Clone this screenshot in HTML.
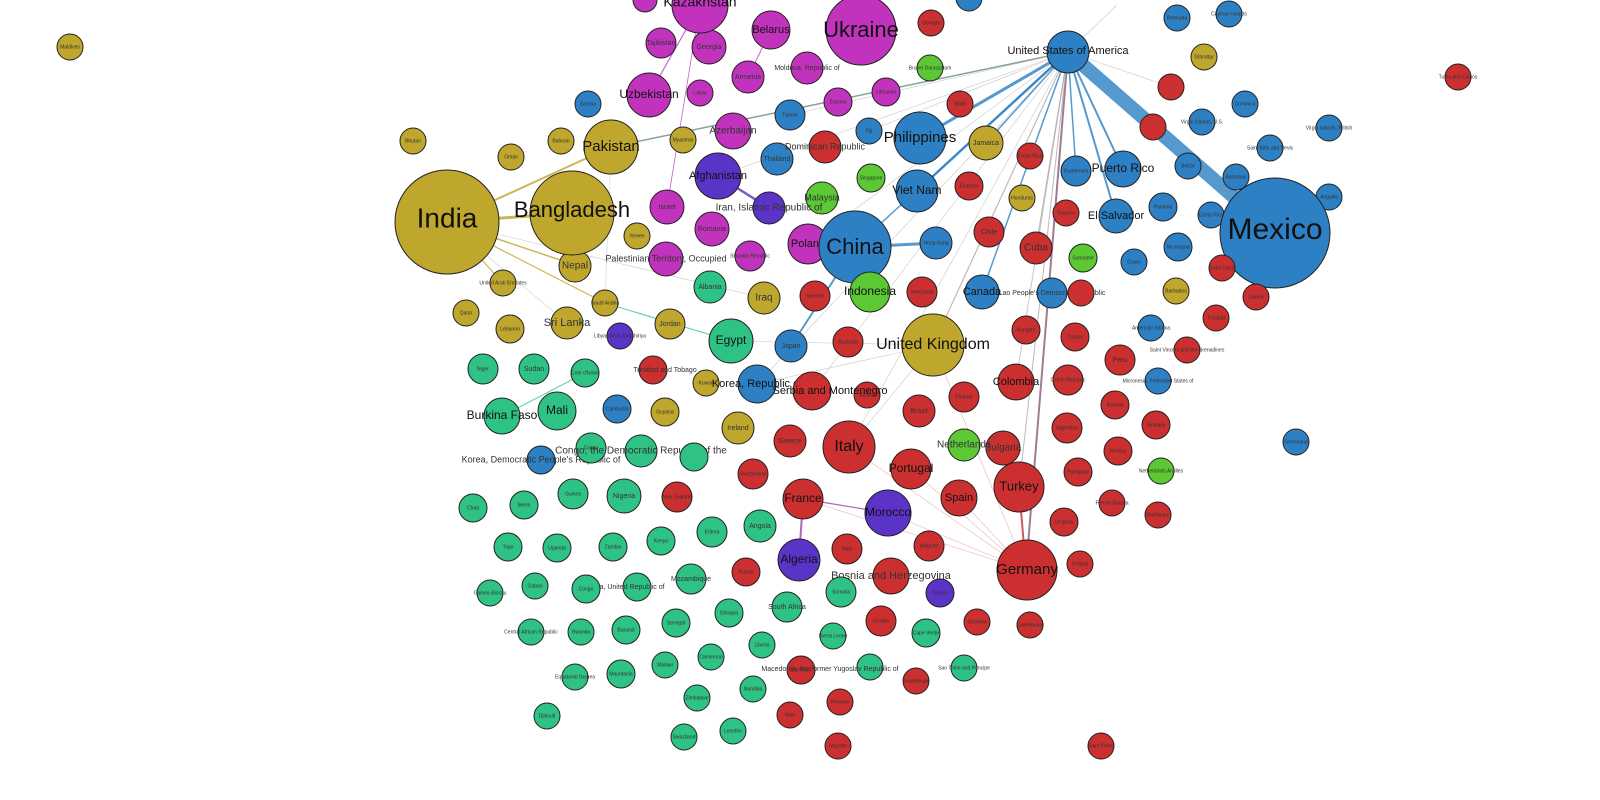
<!DOCTYPE html>
<html><head><meta charset="utf-8"><style>
html,body{margin:0;padding:0;background:#fff;width:1600px;height:800px;overflow:hidden}
svg{font-family:"Liberation Sans","DejaVu Sans",sans-serif}
circle{stroke:#222;stroke-width:1}
.o{fill:#bfa62c}.m{fill:#c233bd}.b{fill:#2d80c4}.r{fill:#cc2f2f}.g{fill:#2fc285}.l{fill:#5bc834}.p{fill:#5b33c6}
text{text-anchor:middle;dominant-baseline:middle;fill:#111}
.s{font-size:7px;fill:#333}.t{font-size:5px;fill:#333}
.e line{stroke:#bbb;stroke-width:0.6;opacity:.8}
</style></head><body>
<svg width="1600" height="800" viewBox="0 0 1600 800">
<g class="e">
<line x1="611" y1="147" x2="1068" y2="52" style="stroke:#6a8a7a;stroke-width:1.5"/>
<line x1="718" y1="176" x2="1068" y2="52"/>
<line x1="920" y1="138" x2="1068" y2="52" style="stroke:#2d80c4;stroke-width:3"/>
<line x1="917" y1="191" x2="1068" y2="52" style="stroke:#2d80c4;stroke-width:2.5"/>
<line x1="855" y1="247" x2="1068" y2="52" style="stroke:#2d80c4;stroke-width:1.5"/>
<line x1="933" y1="345" x2="1068" y2="52" style="stroke:#aaa;stroke-width:1.2"/>
<line x1="1026" y1="570" x2="1068" y2="52" style="stroke:#8a5a7a;stroke-width:2"/>
<line x1="1019" y1="487" x2="1068" y2="52" style="stroke:#aaa;stroke-width:1"/>
<line x1="1016" y1="382" x2="1068" y2="52" style="stroke:#bbb;stroke-width:1"/>
<line x1="982" y1="292" x2="1068" y2="52" style="stroke:#2d80c4;stroke-width:1.5"/>
<line x1="1036" y1="248" x2="1068" y2="52" style="stroke:#aaa;stroke-width:1.2"/>
<line x1="1123" y1="169" x2="1068" y2="52" style="stroke:#2d80c4;stroke-width:2"/>
<line x1="1116" y1="216" x2="1068" y2="52" style="stroke:#2d80c4;stroke-width:2"/>
<line x1="1076" y1="171" x2="1068" y2="52" style="stroke:#2d80c4;stroke-width:1.5"/>
<line x1="986" y1="143" x2="1068" y2="52" style="stroke:#2d80c4;stroke-width:1.5"/>
<line x1="812" y1="391" x2="1068" y2="52"/>
<line x1="757" y1="384" x2="1068" y2="52"/>
<line x1="849" y1="447" x2="1068" y2="52"/>
<line x1="808" y1="244" x2="1068" y2="52"/>
<line x1="869" y1="131" x2="1068" y2="52"/>
<line x1="790" y1="115" x2="1068" y2="52"/>
<line x1="1275" y1="233" x2="1068" y2="52" style="stroke:#2d80c4;stroke-width:14"/>
<line x1="572" y1="213" x2="447" y2="222" style="stroke:#bfa62c;stroke-width:3"/>
<line x1="611" y1="147" x2="447" y2="222" style="stroke:#bfa62c;stroke-width:2"/>
<line x1="575" y1="265" x2="447" y2="222" style="stroke:#bfa62c;stroke-width:1.5"/>
<line x1="447" y1="222" x2="605" y2="303" style="stroke:#bfa62c;stroke-width:1.2"/>
<line x1="447" y1="222" x2="503" y2="283" style="stroke:#bfa62c;stroke-width:1.2"/>
<line x1="447" y1="222" x2="567" y2="323" style="stroke:#ddd;stroke-width:1"/>
<line x1="605" y1="303" x2="611" y2="147" style="stroke:#ddd;stroke-width:1"/>
<line x1="855" y1="247" x2="936" y2="243" style="stroke:#2d80c4;stroke-width:3"/>
<line x1="855" y1="247" x2="791" y2="346" style="stroke:#2d80c4;stroke-width:2"/>
<line x1="718" y1="176" x2="769" y2="208" style="stroke:#5b33c6;stroke-width:2.5"/>
<line x1="799" y1="560" x2="803" y2="499" style="stroke:#9a40b0;stroke-width:2"/>
<line x1="888" y1="513" x2="803" y2="499" style="stroke:#9a40b0;stroke-width:1.2"/>
<line x1="1019" y1="487" x2="1026" y2="570" style="stroke:#cc2f2f;stroke-width:2"/>
<line x1="700" y1="5" x2="649" y2="95" style="stroke:#c233bd;stroke-width:1.2"/>
<line x1="771" y1="30" x2="748" y2="77" style="stroke:#c233bd;stroke-width:1"/>
<line x1="700" y1="5" x2="667" y2="207" style="stroke:#c233bd;stroke-width:0.8"/>
<line x1="731" y1="341" x2="605" y2="303" style="stroke:#2fc285;stroke-width:1"/>
<line x1="502" y1="416" x2="585" y2="373" style="stroke:#2fc285;stroke-width:1"/>
<line x1="1026" y1="570" x2="911" y2="469" style="stroke:#e8a0a0"/>
<line x1="1026" y1="570" x2="849" y2="447" style="stroke:#e8a0a0"/>
<line x1="1026" y1="570" x2="803" y2="499" style="stroke:#e8a0a0"/>
<line x1="1026" y1="570" x2="888" y2="513" style="stroke:#e8a0a0"/>
<line x1="1026" y1="570" x2="959" y2="498" style="stroke:#e8a0a0"/>
<line x1="1026" y1="570" x2="933" y2="345" style="stroke:#e8a0a0"/>
<line x1="933" y1="345" x2="731" y2="341"/>
<line x1="933" y1="345" x2="849" y2="447"/>
<line x1="933" y1="345" x2="757" y2="384"/>
<line x1="447" y1="222" x2="764" y2="298"/>
<line x1="1068" y1="52" x2="1117" y2="5"/>
<line x1="1068" y1="52" x2="1171" y2="87"/>
</g>
<!-- nodes -->
<circle class="o" cx="70" cy="47" r="13"/><text class="t" x="70" y="47">Maldives</text>
<circle class="o" cx="413" cy="141" r="13"/><text class="t" x="413" y="141">Bhutan</text>
<circle class="o" cx="511" cy="157" r="13"/><text class="t" x="511" y="157">Oman</text>
<circle class="o" cx="561" cy="141" r="13"/><text class="t" x="561" y="141">Bahrain</text>
<circle class="o" cx="683" cy="140" r="13"/><text class="t" x="683" y="140">Myanmar</text>
<circle class="o" cx="637" cy="236" r="13"/><text class="t" x="637" y="236">Yemen</text>
<circle class="o" cx="503" cy="283" r="13"/><text class="t" x="503" y="283">United Arab Emirates</text>
<circle class="o" cx="605" cy="303" r="13"/><text class="t" x="605" y="303">Saudi Arabia</text>
<circle class="o" cx="466" cy="313" r="13"/><text class="t" x="466" y="313">Qatar</text>
<circle class="o" cx="510" cy="329" r="14"/><text class="t" x="510" y="329">Lebanon</text>
<circle class="o" cx="670" cy="324" r="15"/><text class="s" x="670" y="324">Jordan</text>
<circle class="o" cx="706" cy="383" r="13"/><text class="t" x="706" y="383">Kuwait</text>
<circle class="o" cx="665" cy="412" r="14"/><text class="t" x="665" y="412">Guyana</text>
<circle class="o" cx="738" cy="428" r="16"/><text class="s" x="738" y="428">Ireland</text>
<circle class="o" cx="986" cy="143" r="17"/><text class="s" x="986" y="143">Jamaica</text>
<circle class="o" cx="1022" cy="198" r="13"/><text class="t" x="1022" y="198">Honduras</text>
<circle class="o" cx="1176" cy="291" r="13"/><text class="t" x="1176" y="291">Barbados</text>
<circle class="o" cx="1204" cy="57" r="13"/><text class="t" x="1204" y="57">Gibraltar</text>
<circle class="o" cx="764" cy="298" r="16"/><text class="s" x="764" y="298" style="font-size:10px">Iraq</text>
<circle class="o" cx="567" cy="323" r="16"/><text class="s" x="567" y="323" style="font-size:11px">Sri Lanka</text>
<circle class="o" cx="575" cy="266" r="16"/><text class="s" x="575" y="266" style="font-size:10px">Nepal</text>

<circle class="m" cx="661" cy="43" r="15"/><text class="s" x="661" y="43">Tajikistan</text>
<circle class="m" cx="709" cy="47" r="17"/><text class="s" x="709" y="47">Georgia</text>
<circle class="m" cx="771" cy="30" r="19"/><text x="771" y="30" style="font-size:11px">Belarus</text>
<circle class="m" cx="748" cy="77" r="16"/><text class="s" x="748" y="77">Armenia</text>
<circle class="m" cx="807" cy="68" r="16"/><text class="s" x="807" y="68">Moldova, Republic of</text>
<circle class="m" cx="700" cy="93" r="13"/><text class="t" x="700" y="93">Latvia</text>
<circle class="m" cx="733" cy="131" r="18"/><text class="s" x="733" y="131" style="font-size:10px">Azerbaijan</text>
<circle class="m" cx="886" cy="92" r="14"/><text class="t" x="886" y="92">Lithuania</text>
<circle class="m" cx="838" cy="102" r="14"/><text class="t" x="838" y="102">Estonia</text>
<circle class="m" cx="667" cy="207" r="17"/><text class="s" x="667" y="207">Israel</text>
<circle class="m" cx="712" cy="229" r="17"/><text class="s" x="712" y="229">Romania</text>
<circle class="m" cx="666" cy="259" r="17"/><text class="s" x="666" y="259" style="font-size:9px">Palestinian Territory, Occupied</text>
<circle class="m" cx="750" cy="256" r="15"/><text class="t" x="750" y="256">Slovakia Republic</text>
<circle class="m" cx="649" cy="95" r="22"/><text x="649" y="95" style="font-size:12px">Uzbekistan</text>
<circle class="m" cx="808" cy="244" r="20"/><text x="808" y="244" style="font-size:11px">Poland</text>
<circle class="m" cx="700" cy="5" r="28"/><text x="700" y="3" style="font-size:14px">Kazakhstan</text>
<circle class="m" cx="645" cy="0" r="12"/>
<circle class="m" cx="861" cy="30" r="35"/><text x="861" y="31" style="font-size:22px">Ukraine</text>

<circle class="b" cx="588" cy="104" r="13"/><text class="t" x="588" y="104">Samoa</text>
<circle class="b" cx="790" cy="115" r="15"/><text class="t" x="790" y="115">Taiwan</text>
<circle class="b" cx="869" cy="131" r="13"/><text class="t" x="869" y="131">Fiji</text>
<circle class="b" cx="777" cy="159" r="16"/><text class="s" x="777" y="159">Thailand</text>
<circle class="b" cx="936" cy="243" r="16"/><text class="t" x="936" y="243">Hong Kong</text>
<circle class="b" cx="791" cy="346" r="16"/><text class="s" x="791" y="346">Japan</text>
<circle class="b" cx="617" cy="409" r="14"/><text class="t" x="617" y="409">Cambodia</text>
<circle class="b" cx="541" cy="460" r="14"/><text class="s" x="541" y="460" style="font-size:9px">Korea, Democratic People's Republic of</text>
<circle class="b" cx="1076" cy="171" r="15"/><text class="t" x="1076" y="171">Guatemala</text>
<circle class="b" cx="1178" cy="247" r="14"/><text class="t" x="1178" y="247">Nicaragua</text>
<circle class="b" cx="1134" cy="262" r="13"/><text class="t" x="1134" y="262">Guam</text>
<circle class="b" cx="1052" cy="293" r="15"/><text class="s" x="1052" y="293">Lao People's Democratic Republic</text>
<circle class="b" cx="1151" cy="328" r="13"/><text class="t" x="1151" y="328">American Samoa</text>
<circle class="b" cx="1158" cy="381" r="13"/><text class="t" x="1158" y="381">Micronesia, Federated States of</text>
<circle class="b" cx="1245" cy="104" r="13"/><text class="t" x="1245" y="104">Dominica</text>
<circle class="b" cx="1177" cy="18" r="13"/><text class="t" x="1177" y="18">Bermuda</text>
<circle class="b" cx="1229" cy="14" r="13"/><text class="t" x="1229" y="14">Cayman Islands</text>
<circle class="b" cx="1202" cy="122" r="13"/><text class="t" x="1202" y="122">Virgin Islands, U.S.</text>
<circle class="b" cx="1188" cy="166" r="13"/><text class="t" x="1188" y="166">Belize</text>
<circle class="b" cx="1236" cy="177" r="13"/><text class="t" x="1236" y="177">Bahamas</text>
<circle class="b" cx="1211" cy="215" r="13"/><text class="t" x="1211" y="215">Costa Rica</text>
<circle class="b" cx="1163" cy="207" r="14"/><text class="t" x="1163" y="207">Panama</text>
<circle class="b" cx="1270" cy="148" r="13"/><text class="t" x="1270" y="148">Saint Kitts and Nevis</text>
<circle class="b" cx="1329" cy="128" r="13"/><text class="t" x="1329" y="128">Virgin Islands, British</text>
<circle class="b" cx="1329" cy="197" r="13"/><text class="t" x="1329" y="197">Anguilla</text>
<circle class="b" cx="1296" cy="442" r="13"/><text class="t" x="1296" y="442">Greenland</text>
<circle class="b" cx="969" cy="-2" r="13"/>
<circle class="b" cx="1123" cy="169" r="18"/><text x="1123" y="169" style="font-size:12px">Puerto Rico</text>
<circle class="b" cx="1116" cy="216" r="17"/><text x="1116" y="216" style="font-size:11px">El Salvador</text>
<circle class="b" cx="982" cy="292" r="17"/><text x="982" y="292" style="font-size:11px">Canada</text>
<circle class="b" cx="757" cy="384" r="19"/><text x="757" y="384" style="font-size:11px">Korea, Republic of</text>
<circle class="b" cx="917" cy="191" r="21"/><text x="917" y="191" style="font-size:12px">Viet Nam</text>
<circle class="b" cx="920" cy="138" r="26"/><text x="920" y="138" style="font-size:15px">Philippines</text>
<circle class="b" cx="1068" cy="52" r="21"/><text x="1068" y="51" style="font-size:11px">United States of America</text>
<circle class="b" cx="855" cy="247" r="36"/><text x="855" y="248" style="font-size:22px">China</text>
<circle class="b" cx="1275" cy="233" r="55"/><text x="1275" y="231" style="font-size:30px">Mexico</text>

<circle class="r" cx="931" cy="23" r="13"/><text class="t" x="931" y="23">Georgia</text>
<circle class="r" cx="960" cy="104" r="13"/><text class="t" x="960" y="104">Malta</text>
<circle class="r" cx="825" cy="147" r="16"/><text class="s" x="825" y="147" style="font-size:9px">Dominican Republic</text>
<circle class="r" cx="969" cy="186" r="14"/><text class="t" x="969" y="186">Ecuador</text>
<circle class="r" cx="1030" cy="156" r="13"/><text class="t" x="1030" y="156">Costa Rica</text>
<circle class="r" cx="1120" cy="360" r="15"/><text class="s" x="1120" y="360">Peru</text>
<circle class="r" cx="989" cy="232" r="15"/><text class="s" x="989" y="232">Chile</text>
<circle class="r" cx="1066" cy="213" r="13"/><text class="t" x="1066" y="213">Guyana</text>
<circle class="r" cx="922" cy="292" r="15"/><text class="t" x="922" y="292">Venezuela</text>
<circle class="r" cx="815" cy="296" r="15"/><text class="t" x="815" y="296">Sweden</text>
<circle class="r" cx="848" cy="342" r="15"/><text class="t" x="848" y="342">Australia</text>
<circle class="r" cx="1026" cy="330" r="14"/><text class="t" x="1026" y="330">Hungary</text>
<circle class="r" cx="1075" cy="337" r="14"/><text class="t" x="1075" y="337">Cyprus</text>
<circle class="r" cx="1068" cy="380" r="15"/><text class="t" x="1068" y="380">Czech Republic</text>
<circle class="r" cx="964" cy="397" r="15"/><text class="t" x="964" y="397">Finland</text>
<circle class="r" cx="867" cy="395" r="13"/><text class="t" x="867" y="395">Austria</text>
<circle class="r" cx="919" cy="411" r="16"/><text class="s" x="919" y="411">Brazil</text>
<circle class="r" cx="1003" cy="448" r="17"/><text class="s" x="1003" y="448" style="font-size:10px">Bulgaria</text>
<circle class="r" cx="1067" cy="428" r="15"/><text class="t" x="1067" y="428">Argentina</text>
<circle class="r" cx="790" cy="441" r="16"/><text class="s" x="790" y="441">Greece</text>
<circle class="r" cx="753" cy="474" r="15"/><text class="t" x="753" y="474">Switzerland</text>
<circle class="r" cx="1078" cy="472" r="14"/><text class="t" x="1078" y="472">Paraguay</text>
<circle class="r" cx="677" cy="497" r="15"/><text class="t" x="677" y="497">New Zealand</text>
<circle class="r" cx="847" cy="549" r="15"/><text class="t" x="847" y="549">Haiti</text>
<circle class="r" cx="929" cy="546" r="15"/><text class="t" x="929" y="546">Belgium</text>
<circle class="r" cx="746" cy="572" r="14"/><text class="t" x="746" y="572">Russia</text>
<circle class="r" cx="881" cy="621" r="15"/><text class="t" x="881" y="621">Croatia</text>
<circle class="r" cx="977" cy="622" r="13"/><text class="t" x="977" y="622">Slovenia</text>
<circle class="r" cx="1030" cy="625" r="13"/><text class="t" x="1030" y="625">Luxembourg</text>
<circle class="r" cx="801" cy="670" r="14"/><text class="t" x="801" y="670">Denmark</text>
<circle class="r" cx="891" cy="576" r="18"/><text class="s" x="891" y="576" style="font-size:11px">Bosnia and Herzegovina</text>
<circle class="r" cx="1080" cy="564" r="13"/><text class="t" x="1080" y="564">Iceland</text>
<circle class="r" cx="1064" cy="522" r="14"/><text class="t" x="1064" y="522">Uruguay</text>
<circle class="r" cx="1112" cy="503" r="13"/><text class="t" x="1112" y="503">French Guiana</text>
<circle class="r" cx="1158" cy="515" r="13"/><text class="t" x="1158" y="515">Martinique</text>
<circle class="r" cx="1156" cy="425" r="14"/><text class="t" x="1156" y="425">Slovakia</text>
<circle class="r" cx="1118" cy="451" r="14"/><text class="t" x="1118" y="451">Norway</text>
<circle class="r" cx="1115" cy="405" r="14"/><text class="t" x="1115" y="405">Estonia</text>
<circle class="r" cx="1187" cy="350" r="13"/><text class="t" x="1187" y="350">Saint Vincent and the Grenadines</text>
<circle class="r" cx="1216" cy="318" r="13"/><text class="t" x="1216" y="318">Trinidad</text>
<circle class="r" cx="1458" cy="77" r="13"/><text class="t" x="1458" y="77">Turks and Caicos</text>
<circle class="r" cx="790" cy="715" r="13"/><text class="t" x="790" y="715">Niue</text>
<circle class="r" cx="840" cy="702" r="13"/><text class="t" x="840" y="702">Reunion</text>
<circle class="r" cx="838" cy="746" r="13"/><text class="t" x="838" y="746">Mayotte</text>
<circle class="r" cx="916" cy="681" r="13"/><text class="t" x="916" y="681">Guadeloupe</text>
<circle class="r" cx="1101" cy="746" r="13"/><text class="t" x="1101" y="746">Saint Pierre</text>
<circle class="r" cx="1171" cy="87" r="13"/>
<circle class="r" cx="1153" cy="127" r="13"/>
<circle class="r" cx="1256" cy="297" r="13"/><text class="t" x="1256" y="297">Liberia</text>
<circle class="r" cx="1222" cy="268" r="13"/><text class="t" x="1222" y="268">Saint Lucia</text>
<circle class="r" cx="1081" cy="293" r="13"/>
<circle class="r" cx="653" cy="370" r="14"/><text class="s" x="665" y="370">Trinidad and Tobago</text>
<circle class="r" cx="1036" cy="248" r="16"/><text class="s" x="1036" y="248" style="font-size:10px">Cuba</text>
<circle class="r" cx="1016" cy="382" r="18"/><text x="1016" y="382" style="font-size:11px">Colombia</text>
<circle class="r" cx="812" cy="391" r="19"/><text x="830" y="391" style="font-size:11px">Serbia and Montenegro</text>
<circle class="r" cx="803" cy="499" r="20"/><text x="803" y="499" style="font-size:12px">France</text>
<circle class="r" cx="911" cy="469" r="20"/><text x="911" y="469" style="font-size:12px">Portugal</text>
<circle class="r" cx="959" cy="498" r="18"/><text x="959" y="498" style="font-size:11px">Spain</text>
<circle class="r" cx="1019" cy="487" r="25"/><text x="1019" y="487" style="font-size:13px">Turkey</text>
<circle class="r" cx="849" cy="447" r="26"/><text x="849" y="447" style="font-size:16px">Italy</text>
<circle class="r" cx="1027" cy="570" r="30"/><text x="1027" y="570" style="font-size:15px">Germany</text>

<circle class="g" cx="710" cy="287" r="16"/><text class="s" x="710" y="287">Albania</text>
<circle class="g" cx="483" cy="369" r="15"/><text class="t" x="483" y="369">Niger</text>
<circle class="g" cx="534" cy="369" r="15"/><text class="s" x="534" y="369">Sudan</text>
<circle class="g" cx="585" cy="373" r="14"/><text class="t" x="585" y="373">Cote d'Ivoire</text>
<circle class="g" cx="591" cy="448" r="15"/><text class="t" x="591" y="448">Congo</text>
<circle class="g" cx="641" cy="451" r="16"/><text class="s" x="641" y="451" style="font-size:10px">Congo, the Democratic Republic of the</text>
<circle class="g" cx="694" cy="457" r="14"/>
<circle class="g" cx="473" cy="508" r="14"/><text class="t" x="473" y="508">Chad</text>
<circle class="g" cx="524" cy="505" r="14"/><text class="t" x="524" y="505">Benin</text>
<circle class="g" cx="573" cy="494" r="15"/><text class="t" x="573" y="494">Guinea</text>
<circle class="g" cx="624" cy="496" r="17"/><text class="s" x="624" y="496">Nigeria</text>
<circle class="g" cx="760" cy="526" r="16"/><text class="s" x="760" y="526">Angola</text>
<circle class="g" cx="712" cy="532" r="15"/><text class="t" x="712" y="532">Eritrea</text>
<circle class="g" cx="508" cy="547" r="14"/><text class="t" x="508" y="547">Togo</text>
<circle class="g" cx="557" cy="548" r="14"/><text class="t" x="557" y="548">Uganda</text>
<circle class="g" cx="613" cy="547" r="14"/><text class="t" x="613" y="547">Zambia</text>
<circle class="g" cx="661" cy="541" r="14"/><text class="t" x="661" y="541">Kenya</text>
<circle class="g" cx="691" cy="579" r="15"/><text class="s" x="691" y="579">Mozambique</text>
<circle class="g" cx="637" cy="587" r="14"/><text class="s" x="620" y="587">Tanzania, United Republic of</text>
<circle class="g" cx="535" cy="586" r="13"/><text class="t" x="535" y="586">Gabon</text>
<circle class="g" cx="586" cy="589" r="14"/><text class="t" x="586" y="589">Congo</text>
<circle class="g" cx="490" cy="593" r="13"/><text class="t" x="490" y="593">Guinea-Bissau</text>
<circle class="g" cx="841" cy="592" r="15"/><text class="t" x="841" y="592">Somalia</text>
<circle class="g" cx="787" cy="607" r="15"/><text class="s" x="787" y="607">South Africa</text>
<circle class="g" cx="676" cy="623" r="14"/><text class="t" x="676" y="623">Senegal</text>
<circle class="g" cx="729" cy="613" r="14"/><text class="t" x="729" y="613">Ethiopia</text>
<circle class="g" cx="531" cy="632" r="13"/><text class="t" x="531" y="632">Central African Republic</text>
<circle class="g" cx="581" cy="632" r="13"/><text class="t" x="581" y="632">Rwanda</text>
<circle class="g" cx="626" cy="630" r="14"/><text class="t" x="626" y="630">Burundi</text>
<circle class="g" cx="833" cy="636" r="13"/><text class="t" x="833" y="636">Sierra Leone</text>
<circle class="g" cx="926" cy="633" r="14"/><text class="t" x="926" y="633">Cape Verde</text>
<circle class="g" cx="575" cy="677" r="13"/><text class="t" x="575" y="677">Equatorial Guinea</text>
<circle class="g" cx="621" cy="674" r="14"/><text class="t" x="621" y="674">Mauritania</text>
<circle class="g" cx="665" cy="665" r="13"/><text class="t" x="665" y="665">Malawi</text>
<circle class="g" cx="711" cy="657" r="13"/><text class="t" x="711" y="657">Cameroon</text>
<circle class="g" cx="762" cy="645" r="13"/><text class="t" x="762" y="645">Liberia</text>
<circle class="g" cx="697" cy="698" r="13"/><text class="t" x="697" y="698">Zimbabwe</text>
<circle class="g" cx="753" cy="689" r="13"/><text class="t" x="753" y="689">Namibia</text>
<circle class="g" cx="547" cy="716" r="13"/><text class="t" x="547" y="716">Djibouti</text>
<circle class="g" cx="684" cy="737" r="13"/><text class="t" x="684" y="737">Swaziland</text>
<circle class="g" cx="733" cy="731" r="13"/><text class="t" x="733" y="731">Lesotho</text>
<circle class="g" cx="964" cy="668" r="13"/><text class="t" x="964" y="668">Sao Tome and Principe</text>
<circle class="g" cx="870" cy="667" r="13"/><text class="s" x="830" y="669">Macedonia, the former Yugoslav Republic of</text>
<circle class="g" cx="557" cy="411" r="19"/><text x="557" y="411" style="font-size:12px">Mali</text>
<circle class="g" cx="502" cy="416" r="18"/><text x="502" y="416" style="font-size:12px">Burkina Faso</text>
<circle class="g" cx="731" cy="341" r="22"/><text x="731" y="341" style="font-size:12px">Egypt</text>

<circle class="l" cx="930" cy="68" r="13"/><text class="t" x="930" y="68">Brunei Darussalam</text>
<circle class="l" cx="822" cy="198" r="16"/><text class="s" x="822" y="198" style="font-size:9px">Malaysia</text>
<circle class="l" cx="871" cy="178" r="14"/><text class="t" x="871" y="178">Singapore</text>
<circle class="l" cx="1083" cy="258" r="14"/><text class="t" x="1083" y="258">Suriname</text>
<circle class="l" cx="964" cy="445" r="16"/><text class="s" x="964" y="445" style="font-size:10px">Netherlands</text>
<circle class="l" cx="1161" cy="471" r="13"/><text class="t" x="1161" y="471">Netherlands Antilles</text>
<circle class="l" cx="870" cy="292" r="20"/><text x="870" y="292" style="font-size:12px">Indonesia</text>

<circle class="p" cx="769" cy="208" r="16"/><text class="s" x="769" y="208" style="font-size:10px">Iran, Islamic Republic of</text>
<circle class="p" cx="620" cy="336" r="13"/><text class="t" x="620" y="336">Libyan Arab Jamahiriya</text>
<circle class="p" cx="940" cy="593" r="14"/><text class="t" x="940" y="593">Tunisia</text>
<circle class="p" cx="718" cy="176" r="23"/><text x="718" y="176" style="font-size:11px">Afghanistan</text>
<circle class="p" cx="799" cy="560" r="21"/><text x="799" y="560" style="font-size:12px">Algeria</text>
<circle class="p" cx="888" cy="513" r="23"/><text x="888" y="513" style="font-size:12px">Morocco</text>

<circle class="o" cx="611" cy="147" r="27"/><text x="611" y="147" style="font-size:15px">Pakistan</text>
<circle class="o" cx="933" cy="345" r="31"/><text x="933" y="345" style="font-size:16px">United Kingdom</text>
<circle class="o" cx="572" cy="213" r="42"/><text x="572" y="211" style="font-size:22px">Bangladesh</text>
<circle class="o" cx="447" cy="222" r="52"/><text x="447" y="220" style="font-size:28px">India</text>
</svg>
</body></html>
